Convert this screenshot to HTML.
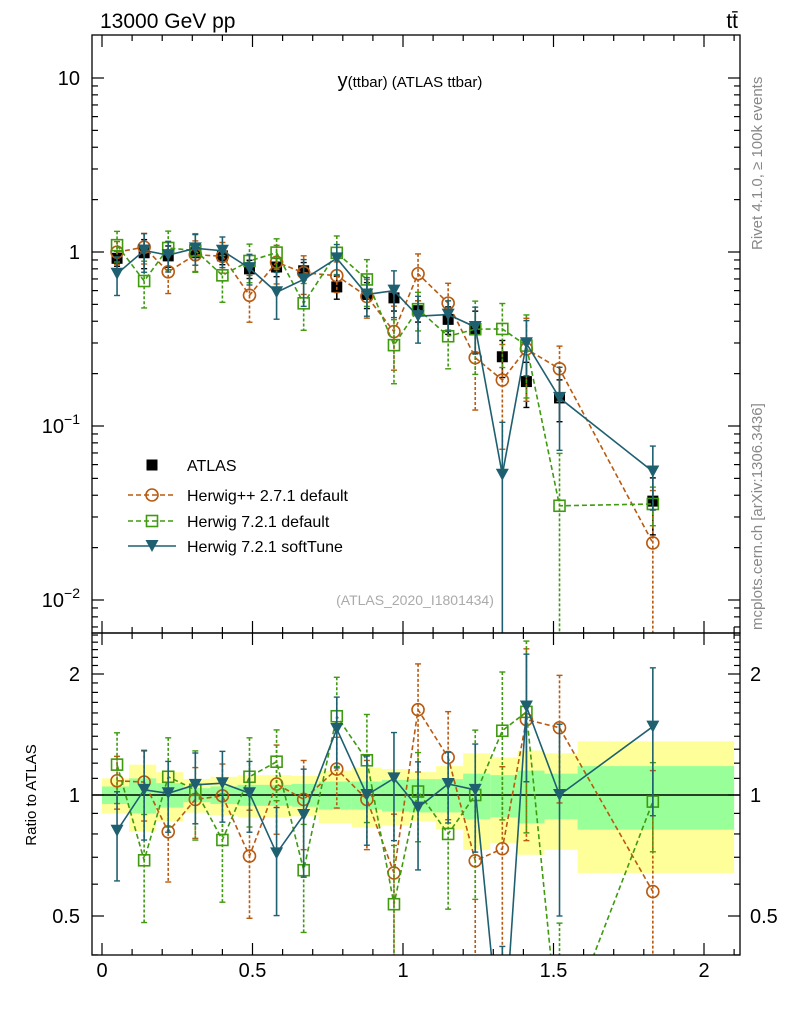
<!DOCTYPE html>
<html><head><meta charset="utf-8">
<style>
html,body{margin:0;padding:0;background:#fff;width:786px;height:1024px;overflow:hidden;}
svg{display:block;font-family:"Liberation Sans",sans-serif;}
</style></head>
<body>
<svg id="c" width="786" height="1024" viewBox="0 0 786 1024" xmlns="http://www.w3.org/2000/svg" overflow="hidden">
<defs>
<clipPath id="cm"><rect x="92" y="35" width="648" height="598"/></clipPath>
<clipPath id="cr"><rect x="92" y="633" width="648" height="322"/></clipPath>
</defs>
<text x="100" y="28" font-size="21">13000 GeV pp</text>
<text x="738" y="28" font-size="21" text-anchor="end">tt̄</text>
<text x="410" y="87" font-size="20" text-anchor="middle">y<tspan font-size="15">(ttbar) (ATLAS ttbar)</tspan></text>
<text transform="translate(762,250) rotate(-90)" font-size="15" fill="#888">Rivet 4.1.0, ≥ 100k events</text>
<text transform="translate(762,630) rotate(-90)" font-size="15" fill="#888">mcplots.cern.ch [arXiv:1306.3436]</text>
<text x="415" y="605" font-size="14" fill="#aaa" text-anchor="middle">(ATLAS_2020_I1801434)</text>
<text transform="translate(36,795) rotate(-90)" font-size="15" text-anchor="middle">Ratio to ATLAS</text>
<g id="bands"></g>
<g id="marks"></g>
<g id="axes"></g>
<g id="legend"></g>
</svg>
<script>
const edges = [0,0.09,0.18,0.27,0.36,0.45,0.54,0.63,0.72,0.83,0.93,1.02,1.11,1.20,1.29,1.38,1.47,1.58,2.1];
const xCenters = [0.05,0.14,0.22,0.31,0.40,0.49,0.58,0.67,0.78,0.88,0.97,1.05,1.15,1.24,1.33,1.41,1.52,1.83];
const atlasValues = [0.92,0.99,0.95,0.99,0.95,0.80,0.82,0.78,0.63,0.57,0.545,0.46,0.41,0.36,0.25,0.18,0.145,0.037];
const atlasTotErr = [0.10,0.19,0.14,0.096,0.11,0.12,0.12,0.115,0.15,0.17,0.16,0.14,0.18,0.27,0.24,0.29,0.27,0.36];
const atlasStatErr = [0.05,0.10,0.07,0.04,0.05,0.06,0.06,0.065,0.08,0.08,0.09,0.095,0.095,0.13,0.12,0.15,0.13,0.18];
const hppRatio = [1.085,1.077,0.81,0.975,0.995,0.705,1.065,0.975,1.16,0.975,0.64,1.63,1.24,0.686,0.735,1.54,1.47,0.575];
const hppErr = [0.15,0.2,0.25,0.2,0.2,0.3,0.25,0.25,0.2,0.25,0.4,0.3,0.3,0.5,0.6,0.5,0.35,1.0];
const h7Ratio = [1.19,0.688,1.11,1.03,0.773,1.11,1.21,0.65,1.57,1.22,0.535,1.02,0.80,1.0,1.445,1.61,0.24,0.963];
const h7Err = [0.2,0.3,0.25,0.25,0.3,0.25,0.2,0.3,0.25,0.3,0.4,0.25,0.35,0.45,0.4,0.5,1.0,0.25];
const softRatio = [0.815,1.03,1.01,1.06,1.07,1.01,0.716,0.892,1.46,1.0,1.10,0.93,1.065,1.03,0.21,1.66,1.0,1.48];
const softErr = [0.25,0.25,0.2,0.2,0.2,0.2,0.3,0.3,0.2,0.25,0.3,0.3,0.2,0.3,1.0,0.35,0.5,0.4];
const mainTicks = [["10",1],["1",0],["10",-1],["10",-2]];
const ratioTicks = [["2",2],["1",1],["0.5",0.5]];
const xTicks = ["0","0.5","1","1.5","2"];

const NS="http://www.w3.org/2000/svg";
const X = v => 102 + v*301;
const YM = v => 252 - Math.log10(v)*174;
const YR = v => 795 - Math.log2(v)*121;
function mk(tag, attrs, parent){const e=document.createElementNS(NS,tag);for(const k in attrs)e.setAttribute(k,attrs[k]);parent.appendChild(e);return e;}
const bands=document.getElementById('bands'), marks=document.getElementById('marks'), axes=document.getElementById('axes'), legend=document.getElementById('legend');

const gb = mk('g',{'clip-path':'url(#cr)'},bands);
for(let i=0;i<atlasValues.length;i++){
  const x0=X(edges[i]), x1=X(edges[i+1]);
  const r1=mk('rect',{x:x0,y:YR(1+atlasTotErr[i]),width:x1-x0,height:YR(1-atlasTotErr[i])-YR(1+atlasTotErr[i]),fill:'#ffff99'},gb);
  
  
}
for(let i=0;i<atlasValues.length;i++){
  const x0=X(edges[i]), x1=X(edges[i+1]);
  const r2=mk('rect',{x:x0,y:YR(1+atlasStatErr[i]),width:x1-x0,height:YR(1-atlasStatErr[i])-YR(1+atlasStatErr[i]),fill:'#99ff99'},gb);
  
  
}
mk('line',{x1:92,x2:740,y1:795,y2:795,stroke:'#000','stroke-width':1.5},gb);

function marker(g,type,x,y,color){
  if(type==='sq') return mk('rect',{x:x-5.5,y:y-5.5,width:11,height:11,fill:'#000'},g);
  if(type==='circ') return mk('circle',{cx:x,cy:y,r:6,fill:'none',stroke:color,'stroke-width':1.6},g);
  if(type==='osq') return mk('rect',{x:x-5.5,y:y-5.5,width:11,height:11,fill:'none',stroke:color,'stroke-width':1.6},g);
  return mk('path',{d:`M${x-6.5},${y-6} L${x+6.5},${y-6} L${x},${y+6} Z`,fill:color},g);
}
function errbar(g,x,y1,y2,color,dash){
  mk('line',{x1:x,x2:x,y1:y1,y2:y2,stroke:color,'stroke-width':1.6,'stroke-dasharray':dash},g);
  mk('line',{x1:x-3,x2:x+3,y1:y1,y2:y1,stroke:color,'stroke-width':1.4},g);
  mk('line',{x1:x-3,x2:x+3,y1:y2,y2:y2,stroke:color,'stroke-width':1.4},g);
}
const series=[
  {name:'herwigpp-2-7-1',ratio:hppRatio,err:hppErr,color:'#b85a10',dash:'5,3',type:'circ'},
  {name:'herwig-7-2-1-default',ratio:h7Ratio,err:h7Err,color:'#3f9a10',dash:'5,3',type:'osq'},
  {name:'herwig-7-2-1-softtune',ratio:softRatio,err:softErr,color:'#1f6070',dash:'none',type:'tri'}
];
const gm=mk('g',{'clip-path':'url(#cm)'},marks);
const gr=mk('g',{'clip-path':'url(#cr)'},marks);
const gd=mk('g',{},gm);


series.forEach(s=>{
  [['main',gm],['ratio',gr]].forEach(([panel,gp])=>{
    const g=mk('g',{},gp);
    
    
    const Y = panel==='main' ? (v=>YM(v)) : (v=>YR(v));
    const bottom = panel==='main' ? 640 : 960;
    const vals = s.ratio.map((r,i)=> panel==='main' ? r*atlasValues[i] : r);
    const pts = vals.map((v,i)=>X(xCenters[i])+','+Y(v)).join(' ');
    const pl=mk('polyline',{points:pts,fill:'none',stroke:s.color,'stroke-width':1.6,'stroke-dasharray':s.dash},g);
    
    
    vals.forEach((v,i)=>{
      const lo=v*(1-s.err[i]), hi=v*(1+s.err[i]);
      errbar(g,X(xCenters[i]),Y(hi),lo>0?Math.min(Y(lo),bottom):bottom,s.color,s.dash==='none'?'none':'3,2');
    });
    vals.forEach((v,i)=>{
      const m=marker(g,s.type,X(xCenters[i]),Y(v),s.color);
      
      
    });
  });
});
atlasValues.forEach((v,i)=>{
  errbar(gd,X(xCenters[i]),YM(v*(1+atlasTotErr[i])),YM(v*(1-atlasTotErr[i])),'#000','none');
  const m=marker(gd,'sq',X(xCenters[i]),YM(v),'#000');
  
  
});

mk('rect',{x:92,y:35,width:648,height:598,fill:'none',stroke:'#000','stroke-width':1.3},axes);
mk('rect',{x:92,y:633,width:648,height:322,fill:'none',stroke:'#000','stroke-width':1.3},axes);
function tick(x1,y1,x2,y2){mk('line',{x1,y1,x2,y2,stroke:'#000','stroke-width':1.2},axes);}
for(let d=-3;d<=1;d++){for(let m=1;m<10;m++){const y=YM(m*Math.pow(10,d));if(y<35||y>633)continue;const L=m===1?12:6;tick(92,y,92+L,y);tick(740,y,740-L,y);}}
mainTicks.forEach(([lab,e])=>{
  const t=mk('text',{x:80,y:YM(Math.pow(10,e))+7,'font-size':20,'text-anchor':'end'},axes);
  
  
  if(e===0||e===1) t.textContent=lab;
  else {t.textContent=lab;const s=mk('tspan',{dy:-9,'font-size':14},t);s.textContent='−'+(-e);}
});
for(let v=0.4;v<=2.6;v+=0.1){const y=YR(v);if(y<633||y>955)continue;const maj=[0.5,1,2].some(q=>Math.abs(q-v)<1e-6);const L=maj?12:6;tick(92,y,92+L,y);tick(740,y,740-L,y);}
ratioTicks.forEach(([lab,v])=>{
  const t=mk('text',{x:80,y:YR(v)+7,'font-size':20,'text-anchor':'end'},axes);
  t.textContent=lab;
  
  
  const t2=mk('text',{x:750,y:YR(v)+7,'font-size':20},axes);
  t2.textContent=lab;
  
  
});
for(let k=0;k<=21;k++){const v=k*0.1;const x=X(v);if(x>740)continue;const maj=k%5===0;const L=maj?12:6;
  tick(x,633,x,633-L);tick(x,35,x,35+L);tick(x,955,x,955-L);tick(x,633,x,633+L);}
xTicks.forEach((lab,i)=>{
  const t=mk('text',{x:X(i*0.5),y:977,'font-size':20,'text-anchor':'middle'},axes);
  t.textContent=lab;
  
  
});

const legItems=[['ATLAS','sq','#000','none','legend-atlas'],['Herwig++ 2.7.1 default','circ','#b85a10','5,3','legend-herwigpp'],['Herwig 7.2.1 default','osq','#3f9a10','5,3','legend-herwig7-default'],['Herwig 7.2.1 softTune','tri','#1f6070','none','legend-herwig7-softtune']];
const ly=[465,495,521,546];
legItems.forEach((it,i)=>{
  const g=mk('g',{},legend);
  
  
  if(i>0) mk('line',{x1:128,x2:176,y1:ly[i],y2:ly[i],stroke:it[2],'stroke-width':1.6,'stroke-dasharray':it[3]},g);
  marker(g,it[1],152,ly[i],it[2]);
  const t=mk('text',{x:187,y:ly[i]+6,'font-size':16},g);
  t.textContent=it[0];
});
</script>
</body></html>
